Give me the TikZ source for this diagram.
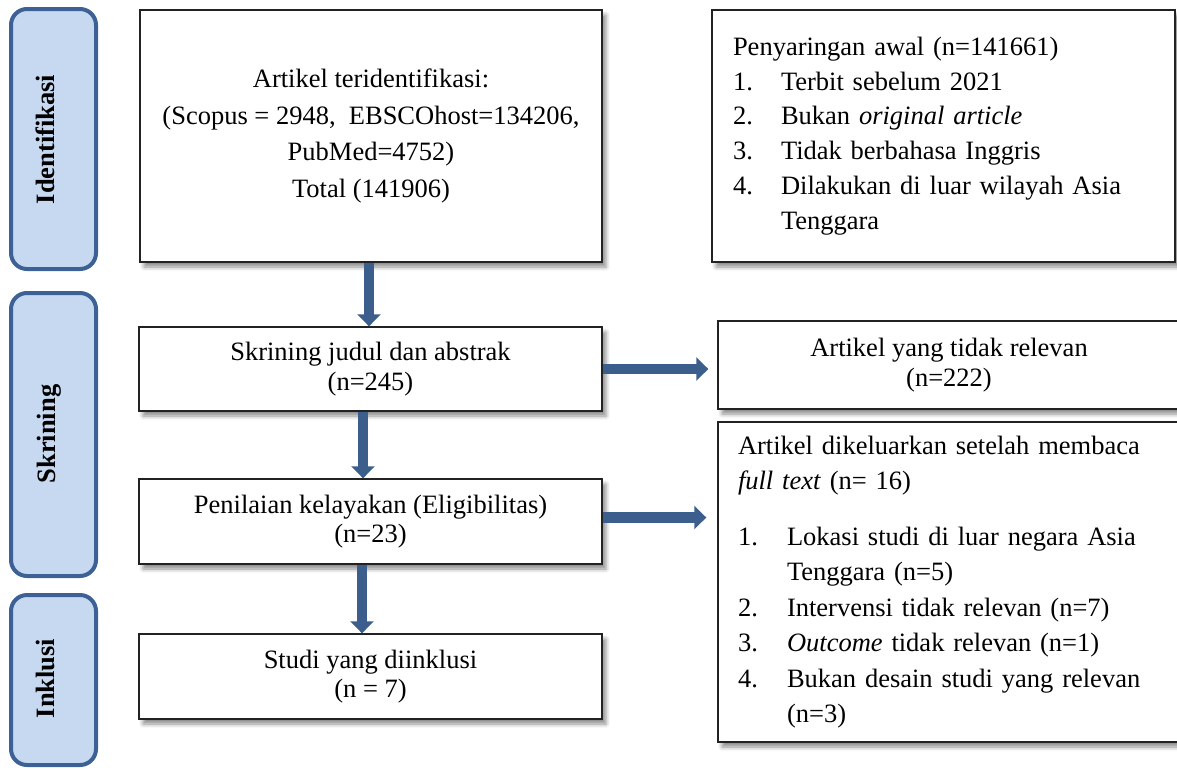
\documentclass[tikz,border=0pt]{standalone}
\usepackage{fontspec}
\setmainfont{Liberation Serif}
\usetikzlibrary{arrows.meta,shadows.blur}
\definecolor{barfill}{HTML}{C6D9F0}
\definecolor{barline}{HTML}{3D6195}
\definecolor{arrowblue}{HTML}{3B5E8C}
\definecolor{boxline}{HTML}{222222}
\tikzset{
  stagebar/.style={draw=barline, fill=barfill, line width=4pt, rounded corners=16pt,
    minimum width=85pt, inner sep=0pt},
  stagelabel/.style={rotate=90, anchor=base, inner sep=0pt,
    font=\bfseries\fontsize{26.5}{30}\selectfont},
  flowbox/.style={draw=boxline, line width=1.4pt, fill=white,
    blur shadow={shadow xshift=4pt, shadow yshift=-5pt, shadow blur radius=4pt, shadow opacity=45},
    font=\fontsize{26.5}{29.5}\selectfont, align=center, inner sep=0pt},
  listbox/.style={flowbox, align=left, inner xsep=21pt, text width=421pt},
  blockarrow/.style={draw=arrowblue, line width=10.5pt, -{Triangle[width=23pt,length=12pt]}},
}
\newcommand{\numitem}[1]{\makebox[48pt][l]{#1}}
\newcommand{\numcont}{\hspace*{48pt}}
\begin{document}
\begin{tikzpicture}[x=1pt,y=-1pt]
\useasboundingbox (0,0) rectangle (1177,769);

% stage bars
\node[stagebar, minimum height=260pt] (bar1) at (53.5,139) {};
\node[stagebar, minimum height=283pt] (bar2) at (53.5,434.5) {};
\node[stagebar, minimum height=170pt] (bar3) at (53.5,680) {};
\node[stagelabel] (lab1) at (54,139.5) {Identifikasi};
\node[stagelabel] (lab2) at (55,434) {Skrining};
\node[stagelabel] (lab3) at (54,678.5) {Inklusi};

% boxes
\node[flowbox, minimum width=462pt, minimum height=252pt,
      font=\fontsize{26.5}{36.7}\selectfont] (A) at (371,136)
  {Artikel teridentifikasi:\\(Scopus = 2948,\ \ EBSCOhost=134206,\\PubMed=4752)\\Total (141906)};

\node[listbox, minimum width=463pt, minimum height=252pt,
      font=\fontsize{26.5}{34.8}\selectfont] (B) at (943.5,136)
  {Penyaringan awal (n=141661)\\
   \numitem{1.}Terbit sebelum 2021\\
   \numitem{2.}Bukan \textit{original article}\\
   \numitem{3.}Tidak berbahasa Inggris\\
   \numitem{4.}Dilakukan di luar wilayah Asia\\
   \numcont Tenggara};

\node[flowbox, minimum width=463pt, minimum height=84pt] (C) at (370.5,369)
  {Skrining judul dan abstrak\\(n=245)};

\node[flowbox, minimum width=462pt, minimum height=88pt] (D) at (949,365)
  {Artikel yang tidak relevan\\(n=222)};

\node[flowbox, minimum width=463pt, minimum height=85pt] (E) at (370.5,521.5)
  {Penilaian kelayakan (Eligibilitas)\\(n=23)};

\node[listbox, inner xsep=20pt, text width=422pt, minimum width=462pt, minimum height=320pt,
      font=\fontsize{26.5}{35.5}\selectfont] (F) at (949,582)
  {Artikel dikeluarkan setelah membaca\\
   \textit{full text} (n= 16)\\[20pt]
   \makebox[49pt][l]{1.}Lokasi studi di luar negara Asia\\
   \hspace*{49pt}Tenggara (n=5)\\
   \makebox[49pt][l]{2.}Intervensi tidak relevan (n=7)\\
   \makebox[49pt][l]{3.}\textit{Outcome} tidak relevan (n=1)\\
   \makebox[49pt][l]{4.}Bukan desain studi yang relevan\\
   \hspace*{49pt}(n=3)};

\node[flowbox, minimum width=463pt, minimum height=85pt] (G) at (370.5,676.5)
  {Studi yang diinklusi\\(n = 7)};

% arrows
\draw[blockarrow] ([xshift=-2pt]A.south) -- ([xshift=-2pt]A.south |- C.north);
\draw[blockarrow] ([xshift=-7.5pt]C.south) -- ([xshift=-7.5pt]C.south |- E.north);
\draw[blockarrow] ([xshift=-8.5pt]E.south) -- ([xshift=-8.5pt]E.south |- G.north);
\draw[blockarrow] (C.east) -- ([xshift=-9pt]C.east -| D.west);
\draw[blockarrow] ([yshift=4pt]E.east) -- ([xshift=-11pt,yshift=4pt]E.east -| F.west);
\end{tikzpicture}
\end{document}
